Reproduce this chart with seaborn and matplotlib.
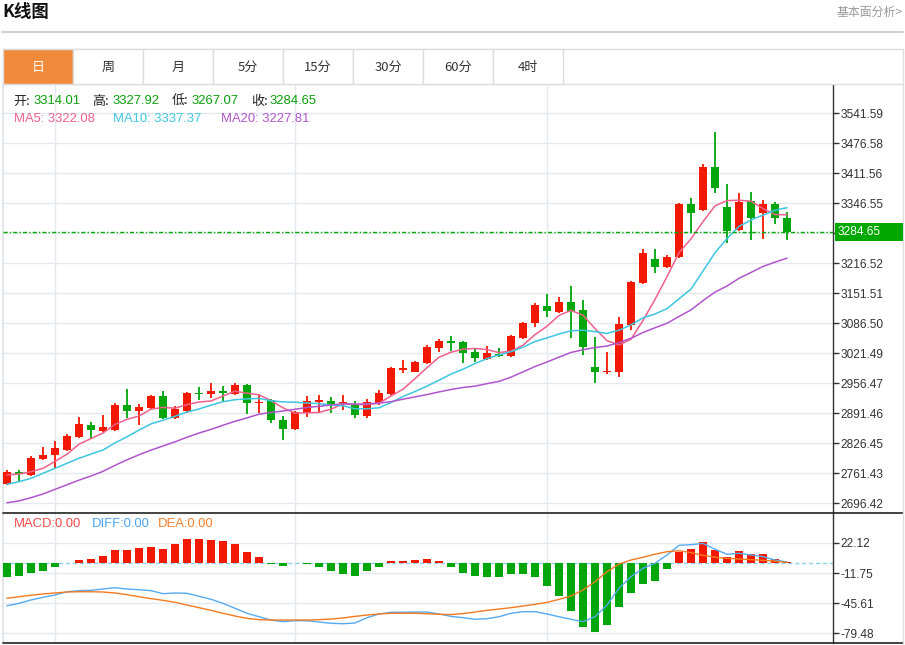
import numpy as np
import pandas as pd
import matplotlib
matplotlib.use("Agg")
import matplotlib.pyplot as plt
from matplotlib.patches import Rectangle
from matplotlib.lines import Line2D
import seaborn as sns

# daily candles (66 sessions, oldest first)
opens = [2737.6, 2763.6, 2757.1, 2791.8, 2800.5, 2811.3, 2839.5, 2865.5, 2852.5, 2854.7,
         2908.8, 2895.8, 2902.3, 2928.3, 2880.7, 2895.8, 2934.8, 2932.7, 2939.2, 2932.7,
         2952.2, 2913.2, 2919.7, 2876.3, 2856.8, 2891.5, 2915.3, 2917.5, 2913.2, 2911.0,
         2885.0, 2913.2, 2932.7, 2984.7, 2980.3, 2999.8, 3032.3, 3047.5, 3045.3, 3023.7,
         3008.5, 3019.3, 3015.0, 3054.0, 3086.5, 3123.4, 3110.4, 3132.0, 3114.7, 2991.2,
         2980.3, 2980.3, 3082.2, 3173.2, 3225.2, 3207.9, 3229.5, 3344.4, 3331.4, 3424.6,
         3337.9, 3288.1, 3350.9, 3324.9, 3344.4, 3314.01]
highs = [2768.0, 2768.0, 2798.3, 2817.8, 2830.8, 2846.0, 2882.8, 2872.0, 2887.2, 2913.2,
         2943.5, 2911.0, 2930.5, 2939.2, 2906.7, 2937.0, 2947.8, 2956.5, 2950.0, 2956.5,
         2954.3, 2930.5, 2921.8, 2885.0, 2895.8, 2928.3, 2930.5, 2926.2, 2930.5, 2917.5,
         2921.8, 2941.3, 2991.2, 3006.3, 3004.2, 3038.8, 3051.8, 3058.4, 3047.5, 3032.3,
         3036.7, 3032.3, 3060.5, 3088.7, 3129.9, 3149.4, 3142.9, 3166.7, 3136.4, 3056.2,
         3023.7, 3099.5, 3177.5, 3246.9, 3246.9, 3233.9, 3346.6, 3357.4, 3431.1, 3500.4,
         3387.7, 3368.2, 3370.4, 3353.1, 3348.7, 3327.92]
lows = [2735.5, 2744.1, 2755.0, 2789.6, 2772.3, 2809.1, 2837.3, 2835.2, 2850.3, 2852.5,
        2880.7, 2865.5, 2900.2, 2878.5, 2878.5, 2891.5, 2919.7, 2924.0, 2917.5, 2930.5,
        2889.3, 2891.5, 2869.8, 2833.0, 2854.7, 2882.8, 2893.7, 2891.5, 2898.0, 2880.7,
        2880.7, 2908.8, 2930.5, 2978.2, 2980.3, 2997.7, 3023.7, 3025.8, 2999.8, 3002.0,
        3006.3, 3012.8, 3012.8, 3051.8, 3077.9, 3099.5, 3108.2, 3054.0, 3017.2, 2956.5,
        2976.0, 2969.5, 3071.4, 3171.0, 3194.9, 3205.7, 3227.4, 3281.5, 3329.2, 3368.2,
        3259.9, 3285.9, 3266.4, 3268.6, 3301.1, 3267.07]
closes = [2763.6, 2759.3, 2794.0, 2800.5, 2815.6, 2841.6, 2867.7, 2854.7, 2861.2, 2908.8,
          2895.8, 2904.5, 2928.3, 2880.7, 2900.2, 2934.8, 2932.7, 2939.2, 2934.8, 2952.2,
          2913.2, 2915.3, 2876.3, 2856.8, 2893.7, 2917.5, 2919.7, 2911.0, 2915.3, 2887.2,
          2915.3, 2934.8, 2989.0, 2989.0, 3002.0, 3034.5, 3047.5, 3043.2, 3021.5, 3010.7,
          3021.5, 3015.0, 3058.4, 3086.5, 3125.5, 3112.5, 3132.0, 3112.5, 3034.5, 2980.3,
          2982.5, 3084.4, 3175.4, 3238.2, 3207.9, 3229.5, 3344.4, 3324.9, 3424.6, 3379.1,
          3285.9, 3348.7, 3314.1, 3344.4, 3314.1, 3284.65]

# moving-average values at the left edge (their windows start before the visible data)
ma5_head = [2757.1, 2759.3, 2764.3, 2771.6]
ma10_head = [2737.0, 2742.6, 2750.0, 2760.8, 2771.6, 2782.5, 2793.3, 2802.6, 2811.3]
ma20_head = [2697.0, 2701.0, 2708.0, 2716.0, 2726.0, 2736.0, 2746.0, 2755.0, 2765.0, 2778.0,
             2790.0, 2801.0, 2811.0, 2820.0, 2829.0, 2839.0, 2848.0, 2856.0, 2865.0]
ma_legend = [3322.08, 3337.37, 3227.81]

# MACD panel
macd_hist = [-16.2, -15.4, -11.3, -9.4, -5.3, -0.3, 2.6, 3.7, 7.9, 13.9,
             13.9, 16.1, 18.0, 15.8, 21.4, 26.2, 26.2, 25.8, 24.0, 20.7,
             11.7, 6.4, -1.1, -3.4, -0.4, -1.1, -5.3, -9.8, -12.4, -14.7,
             -9.8, -4.9, 1.5, 1.5, 3.0, 4.1, 1.5, -4.5, -11.3, -15.0,
             -16.2, -16.2, -12.4, -12.4, -16.2, -26.3, -37.6, -54.5, -72.6, -78.9,
             -69.9, -49.6, -33.8, -24.5, -20.3, -6.8, 11.6, 15.4, 23.6, 13.9,
             6.4, 12.8, 9.8, 10.2, 3.7, 0.3]
diff_line = [-48.7, -46.0, -42.2, -39.2, -36.6, -32.9, -31.7, -31.3, -29.8, -28.3,
             -29.8, -30.6, -31.7, -35.1, -34.3, -34.7, -38.0, -41.4, -46.0, -51.6,
             -57.2, -61.1, -64.8, -66.7, -65.6, -65.6, -67.1, -68.5, -69.0, -68.2,
             -62.2, -58.0, -56.1, -56.1, -55.8, -55.8, -58.0, -60.7, -62.2, -64.0,
             -63.3, -61.1, -57.2, -55.4, -55.4, -58.0, -61.1, -64.0, -66.7, -61.1,
             -47.9, -29.0, -15.9, -6.4, -0.8, 8.6, 19.5, 20.2, 21.7, 15.0,
             9.4, 10.5, 8.6, 6.7, 2.9, 0.7]
dea_line = [-40.3, -38.5, -36.9, -35.4, -34.3, -33.2, -32.9, -32.9, -33.2, -34.3,
            -36.2, -38.5, -40.7, -42.6, -44.8, -47.9, -50.9, -53.9, -57.2, -60.3,
            -62.9, -64.4, -64.8, -64.8, -64.8, -64.8, -64.4, -63.7, -62.5, -60.7,
            -59.2, -58.0, -57.2, -57.2, -57.2, -57.7, -58.4, -58.6, -57.6, -55.8,
            -53.9, -52.4, -50.9, -49.0, -47.1, -44.9, -41.5, -37.7, -30.9, -21.6,
            -10.3, -1.6, 2.9, 6.0, 9.5, 12.3, 13.4, 11.2, 8.2, 6.0,
            4.8, 4.1, 3.3, 2.6, 1.5, 0.3]

price_ticks = [3541.59, 3476.58, 3411.56, 3346.55, 3281.54, 3216.52, 3151.51, 3086.50,
               3021.49, 2956.47, 2891.46, 2826.45, 2761.43, 2696.42]
macd_ticks = [22.12, -11.75, -45.61, -79.48]
grid_days = [4, 24, 45]
tabs = ["日", "周", "月", "5分", "15分", "30分", "60分", "4时"]

RED = "#F31800"
GREEN = "#00A60A"

sns.set_theme(style="white")
plt.rcParams["font.family"] = ["Liberation Sans", "Noto Sans CJK SC", "DejaVu Sans"]

W, H = 905, 645
fig = plt.figure(figsize=(W / 100, H / 100), dpi=100)
fig.patch.set_facecolor("white")


def box(x0, y0, x1, y1):
    return [x0 / W, 1 - y1 / H, (x1 - x0) / W, (y1 - y0) / H]


def ftxt(x, y, s, **kw):
    kw.setdefault("va", "center")
    kw.setdefault("ha", "left")
    return fig.text(x / W, 1 - y / H, s, **kw)


def fline(x0, y0, x1, y1, **kw):
    fig.add_artist(Line2D([x0 / W, x1 / W], [1 - y0 / H, 1 - y1 / H], **kw))


ax = fig.add_axes(box(3, 85, 833, 513))
axm = fig.add_axes(box(3, 513, 833, 643))

n = len(closes)
x = np.arange(n)
o = np.array(opens)
c = np.array(closes)
colors = np.where(c >= o, RED, GREEN)

# candles
mid = (o + c) / 2
body_h = np.maximum(np.abs(c - o), 3.2)
ax.vlines(x, lows, highs, colors=colors, lw=1.3, zorder=3)
ax.bar(x, body_h, bottom=mid - body_h / 2, width=0.72, color=colors, linewidth=0, zorder=4)

# moving averages
cs = pd.Series(closes)
ma_cfg = [(5, ma5_head, "#F0608C"), (10, ma10_head, "#3CC6E0"), (20, ma20_head, "#B055CC")]
for win, head, col in ma_cfg:
    ma = cs.rolling(win).mean().to_numpy()
    ma[:len(head)] = head
    sns.lineplot(x=x, y=ma, ax=ax, color=col, lw=1.1, legend=False, zorder=5)

ax.axhline(closes[-1], color="#00A800", lw=1, ls=(0, (3, 1.5, 1, 1.5)), zorder=6)

ax.set_xlim(-0.33, 68.83)
ax.set_ylim(2674.8, 3602.3)
ax.set_yticks(price_ticks)
# the tick next to the current price sits under the price tag
ax.set_yticklabels(["" if abs(v - closes[-1]) < 20 else f"{v:.2f}" for v in price_ticks])
ax.set_xticks(grid_days)
ax.set_xticklabels([])

# MACD panel
hist_cols = [RED if v > 0 else GREEN for v in macd_hist]
axm.axhline(0, color="#8CCFF0", lw=1, ls=(0, (3, 2)), zorder=1)
axm.bar(x, macd_hist, width=0.72, color=hist_cols, linewidth=0, zorder=3)
sns.lineplot(x=x, y=diff_line, ax=axm, color="#55AAF0", lw=1.0, legend=False, zorder=4)
sns.lineplot(x=x, y=dea_line, ax=axm, color="#F47A20", lw=1.0, legend=False, zorder=4)
axm.set_xlim(-0.33, 68.83)
axm.set_ylim(-90.76, 55.98)
axm.set_yticks(macd_ticks)
axm.set_yticklabels([f"{v:.2f}" for v in macd_ticks])
axm.set_xticks(grid_days)
axm.set_xticklabels([])

for a in (ax, axm):
    a.set_facecolor("white")
    a.grid(True, color="#E3E9EE", lw=1)
    a.set_axisbelow(True)
    a.yaxis.tick_right()
    a.tick_params(axis="y", length=4, width=1, color="#333333", labelsize=8.6,
                  labelcolor="#333333", pad=1.5)
    a.tick_params(axis="x", length=0)
    a.set_xlabel("")
    a.set_ylabel("")
    for s in ("top", "bottom"):
        a.spines[s].set_visible(False)
    a.spines["left"].set_color("#DDE3E8")
    a.spines["right"].set_color("#333333")
    a.spines["right"].set_linewidth(1)

# panel separators
fline(3, 513, 903, 513, color="#222222", lw=1.2)
fline(3, 643, 903, 643, color="#222222", lw=1.2)
fline(903, 84, 903, 645, color="#DDDDDD", lw=1)

# current price tag
fig.add_artist(Rectangle((835 / W, 1 - 241 / H), 68 / W, 18 / H, transform=fig.transFigure,
                         facecolor="#00A800", edgecolor="none", zorder=5))
ftxt(838, 232, f"{closes[-1]:.2f}", color="white", fontsize=8.6, zorder=6)

# header
ftxt(2, 12, "K线图", fontsize=12.5, fontweight="bold", color="#111111",
     family=["Noto Sans CJK SC"])
ftxt(903, 12, "基本面分析>", ha="right", fontsize=8.6, color="#999999",
     family=["Noto Sans CJK SC"])
fline(2, 32, 903, 32, color="#D0D0D0", lw=1.5)

# tabs
fig.add_artist(Rectangle((3 / W, 1 - 84 / H), 900 / W, 35 / H, transform=fig.transFigure,
                         facecolor="white", edgecolor="#DDDDDD", lw=1))
for k, t in enumerate(tabs):
    x0 = 3 + 70 * k
    active = k == 0
    fig.add_artist(Rectangle((x0 / W, 1 - 84 / H), 70 / W, 35 / H, transform=fig.transFigure,
                             facecolor="#F28A3B" if active else "white",
                             edgecolor="#DDDDDD", lw=1))
    ftxt(x0 + 35, 67, t, ha="center", fontsize=9.4,
         color="white" if active else "#333333", family=["Noto Sans CJK SC"])

# price legend
lab = "#222222"
val = "#0A9F0A"
fs = 9.4
for name, xl, xv, v in [("开:", 13, 33, opens[-1]), ("高:", 92, 112, highs[-1]),
                        ("低:", 172, 191, lows[-1]), ("收:", 251, 269, closes[-1])]:
    ftxt(xl, 101, name, fontsize=fs, color=lab, family=["Noto Sans CJK SC"])
    ftxt(xv, 101, f"{v:.2f}", fontsize=fs, color=val)
for (win, _, col), xl, v in zip(ma_cfg, [14, 113, 221], ma_legend):
    ftxt(xl, 119, f"MA{win}: {v:.2f}", fontsize=fs, color=col)

# MACD legend
for s, xl, col in [("MACD:0.00", 14, "#F04848"), ("DIFF:0.00", 92, "#4AA3F0"),
                   ("DEA:0.00", 158, "#F47E2A")]:
    ftxt(xl, 524, s, fontsize=fs, color=col)

fig.savefig("out.png", dpi=100, facecolor="white")
